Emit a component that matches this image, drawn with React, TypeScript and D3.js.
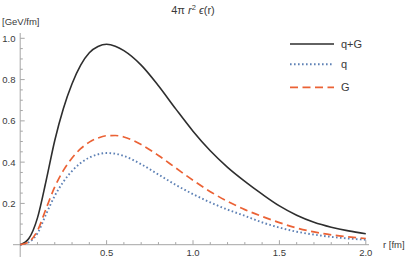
import React from "react";
import * as d3 from "d3";

const rValues = [0, 0.05, 0.1, 0.15, 0.2, 0.25, 0.3, 0.35, 0.4, 0.45, 0.5, 0.55, 0.6, 0.7, 0.8, 0.9, 1.0, 1.1, 1.2, 1.3, 1.4, 1.5, 1.6, 1.7, 1.8, 1.9, 2.0];
const totalValues = [0, 0.03, 0.13, 0.31, 0.505, 0.66, 0.78, 0.87, 0.93, 0.96, 0.971, 0.962, 0.94, 0.87, 0.77, 0.658, 0.55, 0.455, 0.375, 0.307, 0.245, 0.188, 0.143, 0.109, 0.085, 0.067, 0.053];
const quarkValues = [0, 0.012, 0.055, 0.148, 0.237, 0.305, 0.357, 0.396, 0.422, 0.438, 0.444, 0.441, 0.43, 0.39, 0.34, 0.29, 0.245, 0.205, 0.17, 0.14, 0.108, 0.083, 0.063, 0.049, 0.038, 0.03, 0.024];
const gluonValues = [0, 0.014, 0.068, 0.175, 0.28, 0.36, 0.42, 0.465, 0.497, 0.517, 0.528, 0.529, 0.522, 0.485, 0.432, 0.372, 0.312, 0.257, 0.21, 0.17, 0.137, 0.107, 0.081, 0.062, 0.048, 0.038, 0.03];

const xMajorTicks = [0.5, 1.0, 1.5, 2.0];
const xTickLabels = ["0.5", "1.0", "1.5", "2.0"];
const yMajorTicks = [0.2, 0.4, 0.6, 0.8, 1.0];
const yTickLabels = ["0.2", "0.4", "0.6", "0.8", "1.0"];
const legendLabels = ["q+G", "q", "G"];

const W = 407;
const H = 258;

export default function App() {
  const x = d3.scaleLinear().domain([0, 2]).range([20.2, 365.8]);
  const y = d3.scaleLinear().domain([0, 1]).range([244.7, 38.3]);

  const series = [
    { values: totalValues, color: "#2e2e2e", dash: "none", width: 1.6 },
    { values: quarkValues, color: "#5E81B5", dash: "1.6,2.4", width: 1.9 },
    { values: gluonValues, color: "#EB6235", dash: "8,4.5", width: 1.7 },
  ];

  const line = (vals: number[]) =>
    d3
      .line<number>()
      .x((_, i) => x(rValues[i]))
      .y((d) => y(d))
      .curve(d3.curveMonotoneX)(vals) || "";

  const xMinor = d3.range(1, 21).map((i) => i / 10).filter((v) => Math.abs(v * 2 - Math.round(v * 2)) > 1e-6);
  const yMinor = d3.range(1, 21).map((i) => i / 20).filter((v) => Math.abs(v * 5 - Math.round(v * 5)) > 1e-6);

  const axisColor = "#a6a6a6";
  const textColor = "#3a3a3a";
  const font = "'Liberation Sans', Arial, sans-serif";

  return (
    <svg
      width={W}
      height={H}
      style={{ position: "absolute", left: 0, top: 0, background: "#fff" }}
      fontFamily={font}
    >
      {/* axes */}
      <line x1={13} x2={369} y1={y(0)} y2={y(0)} stroke={axisColor} strokeWidth={1} />
      <line x1={x(0)} x2={x(0)} y1={33} y2={257} stroke={axisColor} strokeWidth={1} />
      {xMajorTicks.map((t, i) => (
        <g key={"xm" + i}>
          <line x1={x(t)} x2={x(t)} y1={y(0)} y2={y(0) - 4.5} stroke={axisColor} />
          <text x={x(t)} y={256} textAnchor="middle" fontSize={9.5} fill={textColor}>
            {xTickLabels[i]}
          </text>
        </g>
      ))}
      {xMinor.map((t, i) => (
        <line key={"xn" + i} x1={x(t)} x2={x(t)} y1={y(0)} y2={y(0) - 2.6} stroke={axisColor} />
      ))}
      {yMajorTicks.map((t, i) => (
        <g key={"ym" + i}>
          <line x1={x(0)} x2={x(0) + 4.5} y1={y(t)} y2={y(t)} stroke={axisColor} />
          <text x={15.5} y={y(t) + 3.4} textAnchor="end" fontSize={9.5} fill={textColor}>
            {yTickLabels[i]}
          </text>
        </g>
      ))}
      {yMinor.map((t, i) => (
        <line key={"yn" + i} x1={x(0)} x2={x(0) + 2.6} y1={y(t)} y2={y(t)} stroke={axisColor} />
      ))}

      {/* axis labels */}
      <text x={2} y={24.5} fontSize={9.5} fill={textColor}>[GeV/fm]</text>
      <text x={383} y={248} fontSize={9.5} fill={textColor}>r [fm]</text>

      {/* title */}
      <text x={193} y={14} textAnchor="middle" fontSize={11} fill={textColor}>
        <tspan>4π </tspan>
        <tspan fontStyle="italic">r</tspan>
        <tspan fontSize={7.5} dy={-4.5}>2</tspan>
        <tspan dy={4.5}> </tspan>
        <tspan fontStyle="italic">ϵ</tspan>
        <tspan>(r)</tspan>
      </text>

      {/* curves */}
      {series.map((s, i) => (
        <path
          key={"s" + i}
          d={line(s.values)}
          fill="none"
          stroke={s.color}
          strokeWidth={s.width}
          strokeDasharray={s.dash}
        />
      ))}

      {/* legend */}
      {series.map((s, i) => {
        const ly = [44, 64.3, 87.3][i];
        return (
          <g key={"l" + i}>
            <line
              x1={290}
              x2={334}
              y1={ly}
              y2={ly}
              stroke={s.color}
              strokeWidth={s.width}
              strokeDasharray={s.dash}
            />
            <text x={341} y={ly + 4} fontSize={11} fill={textColor}>
              {legendLabels[i]}
            </text>
          </g>
        );
      })}
    </svg>
  );
}
